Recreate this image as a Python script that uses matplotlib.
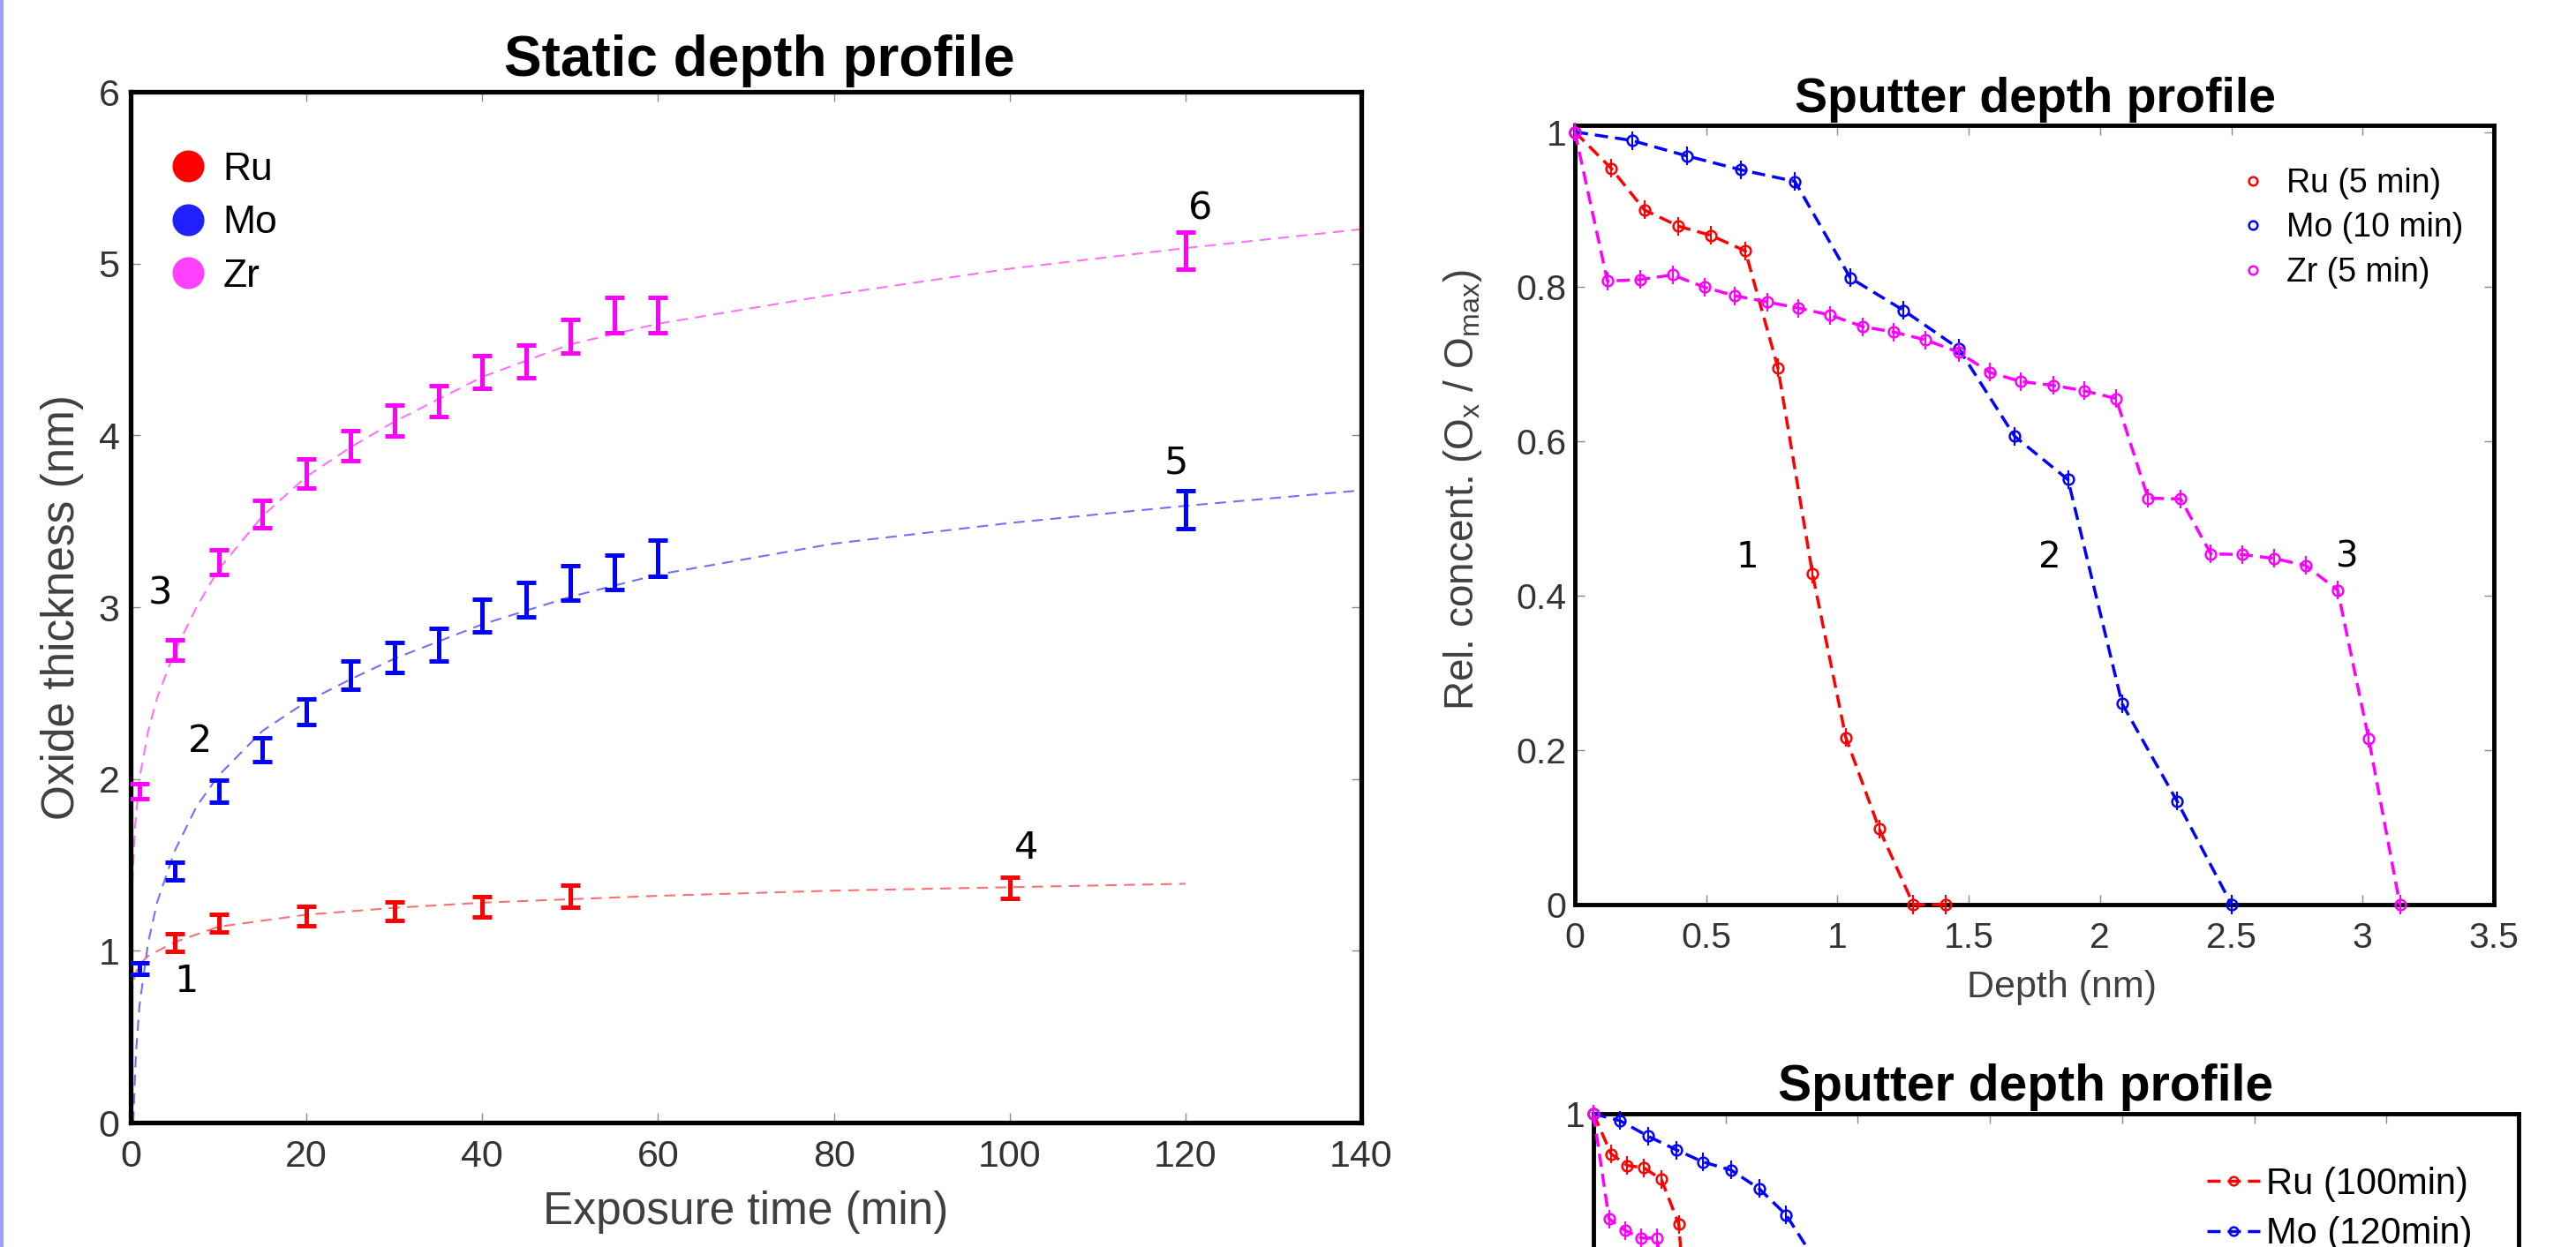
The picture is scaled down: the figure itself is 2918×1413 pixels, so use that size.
import matplotlib
matplotlib.use('Agg')
import matplotlib.pyplot as plt
from matplotlib.lines import Line2D
from matplotlib.patches import Rectangle

plt.rcParams['font.family'] = 'Liberation Sans'
plt.rcParams['mathtext.fontset'] = 'custom'
plt.rcParams['mathtext.rm'] = 'Liberation Sans'
plt.rcParams['mathtext.it'] = 'Liberation Sans:italic'

# ---------- static depth profile (exposure time in min, thickness in nm) ----------
t_mo = [1, 5, 10, 15, 20, 25, 30, 35, 40, 45, 50, 55, 60, 120]
mo_thk = [0.896, 1.464, 1.93, 2.172, 2.393, 2.604, 2.707, 2.782, 2.95, 3.045, 3.143, 3.205, 3.283, 3.568]
mo_err = [0.034, 0.05, 0.065, 0.07, 0.075, 0.084, 0.088, 0.093, 0.095, 0.10, 0.10, 0.10, 0.105, 0.111]

t_zr = [1, 5, 10, 15, 20, 25, 30, 35, 40, 45, 50, 55, 60, 120]
zr_thk = [1.928, 2.752, 3.262, 3.54, 3.78, 3.94, 4.085, 4.20, 4.37, 4.43, 4.575, 4.70, 4.70, 5.076]
zr_err = [0.044, 0.06, 0.071, 0.08, 0.084, 0.087, 0.089, 0.091, 0.095, 0.094, 0.098, 0.101, 0.101, 0.109]

t_ru = [5, 10, 20, 30, 40, 50, 100]
ru_thk = [1.047, 1.162, 1.20, 1.23, 1.255, 1.318, 1.366]
ru_err = [0.05, 0.05, 0.056, 0.056, 0.058, 0.063, 0.06]

# fitted growth curves
fit_t_ru = [0.02, 0.1, 0.5, 1, 2, 5, 10, 20, 30, 40, 50, 60, 80, 100, 120]
fit_ru = [0.62, 0.75, 0.86, 0.92, 0.97, 1.05, 1.14, 1.21, 1.25, 1.28, 1.30, 1.32, 1.35, 1.37, 1.39]
fit_t_mo = [0.3, 0.6, 1, 2, 3, 5, 7.5, 10, 15, 20, 25, 30, 40, 50, 60, 80, 100, 120, 140]
fit_mo = [0.0, 0.4, 0.68, 1.05, 1.28, 1.58, 1.84, 2.02, 2.28, 2.45, 2.58, 2.70, 2.90, 3.06, 3.19, 3.37, 3.49, 3.59, 3.68]
fit_t_zr = [0, 0.05, 0.2, 0.5, 1, 2, 3, 5, 7.5, 10, 15, 20, 25, 30, 40, 50, 60, 80, 100, 120, 140]
fit_zr = [0, 1.0, 1.4, 1.72, 2.0, 2.28, 2.47, 2.74, 3.0, 3.22, 3.53, 3.76, 3.93, 4.08, 4.34, 4.53, 4.65, 4.82, 4.97, 5.09, 5.20]

static_labels = ['1', '2', '3', '4', '5', '6']
static_label_t = [6.3, 7.9, 3.4, 101.9, 118.9, 121.7]
static_label_d = [0.82, 2.22, 3.08, 1.60, 3.84, 5.32]

# ---------- sputter depth profile 1 (depth in nm, relative concentration) ----------
ru5_depth = [0, 0.138, 0.265, 0.395, 0.519, 0.649, 0.773, 0.905, 1.032, 1.159, 1.289, 1.413]
ru5_conc = [1.0, 0.953, 0.899, 0.878, 0.866, 0.846, 0.695, 0.428, 0.216, 0.098, 0.0, 0.0]
mo10_depth = [0, 0.217, 0.426, 0.632, 0.838, 1.049, 1.252, 1.461, 1.675, 1.878, 2.084, 2.293, 2.501]
mo10_conc = [1.0, 0.989, 0.969, 0.951, 0.936, 0.811, 0.769, 0.720, 0.606, 0.550, 0.260, 0.134, 0.0]
zr5_depth = [0, 0.124, 0.248, 0.372, 0.494, 0.609, 0.733, 0.852, 0.973, 1.097, 1.215, 1.334,
             1.461, 1.579, 1.698, 1.822, 1.940, 2.061, 2.183, 2.307, 2.422, 2.543, 2.662,
             2.783, 2.905, 3.023, 3.142]
zr5_conc = [1.0, 0.807, 0.809, 0.815, 0.799, 0.788, 0.780, 0.772, 0.763, 0.748, 0.741, 0.731,
            0.715, 0.689, 0.677, 0.672, 0.665, 0.655, 0.526, 0.525, 0.454, 0.453, 0.448,
            0.439, 0.407, 0.215, 0.0]
sputter_labels = ['1', '2', '3']
sputter_label_depth = [0.658, 1.809, 2.94]
sputter_label_conc = [0.449, 0.449, 0.449]

# ---------- sputter depth profile 2 (only its top part is on the slide) ----------
ru100_depth = [0, 0.067, 0.128, 0.191, 0.257, 0.323, 0.34]
ru100_conc = [1.0, 0.948, 0.933, 0.930, 0.915, 0.857, 0.78]
mo120_depth = [0, 0.101, 0.206, 0.315, 0.415, 0.521, 0.627, 0.729, 0.83]
mo120_conc = [1.0, 0.991, 0.971, 0.953, 0.9375, 0.927, 0.903, 0.869, 0.815]
zr_b_depth = [0, 0.059, 0.119, 0.181, 0.239, 0.27]
zr_b_conc = [1.0, 0.864, 0.849, 0.839, 0.839, 0.78]

RED, BLUE, MAG = '#ff0000', '#0000ff', '#ff00ff'
W, H = 2918, 1413

fig = plt.figure(figsize=(W / 100, H / 100), dpi=100)
fig.add_artist(Rectangle((0, 0), 4 / W, 1, transform=fig.transFigure,
                         color='#a0a0ff', lw=0))


def frame(ax, lw, size, xpad, ypad):
    for sp in ax.spines.values():
        sp.set_linewidth(lw)
        sp.set_capstyle('projecting')
    ax.tick_params(direction='in', length=8, width=1, color='#8a8a8a',
                   top=True, right=True, labelsize=size, labelcolor='#333333')
    ax.tick_params(axis='x', pad=xpad)
    ax.tick_params(axis='y', pad=ypad)


# ---------------- Static depth profile ----------------
ax1 = fig.add_axes([148 / W, (H - 1272) / H, 1394 / W, 1168 / H])
fd = (0, (6, 4))
ax1.plot(fit_t_ru, fit_ru, color='#ff7070', lw=1.5, ls=fd, zorder=1)
ax1.plot(fit_t_mo, fit_mo, color='#7070ff', lw=1.5, ls=fd, zorder=1)
ax1.plot(fit_t_zr, fit_zr, color='#ff70ff', lw=1.5, ls=fd, zorder=1)
eb = dict(fmt='none', elinewidth=3.6, capsize=8, capthick=3.6, zorder=3)
ax1.errorbar(t_ru, ru_thk, yerr=ru_err, ecolor=RED, **eb)
ax1.errorbar(t_mo, mo_thk, yerr=mo_err, ecolor=BLUE, **eb)
ax1.errorbar(t_zr, zr_thk, yerr=zr_err, ecolor=MAG, **eb)
for s, x, y in zip(static_labels, static_label_t, static_label_d):
    ax1.text(x, y, s, fontsize=31, family='DejaVu Sans', ha='center', va='center')

ax1.set_xlim(0, 140)
ax1.set_ylim(0, 6)
ax1.set_xticks(range(0, 141, 20))
ax1.set_yticks(range(0, 7))
frame(ax1, 3.8, 31, 14, 9)
ax1.set_xlabel('Exposure time (min)', fontsize=37, color='#404040')
ax1.xaxis.set_label_coords(0.5, -0.066)
ax1.set_ylabel('Oxide thickness (nm)', fontsize=37, color='#404040')
ax1.yaxis.set_label_coords(-0.038, 0.5)
ax1.text(0.511, 1.0154, 'Static depth profile', transform=ax1.transAxes,
         ha='center', va='baseline', fontsize=46, fontweight='bold')

leg_h = [Line2D([], [], marker='o', ls='none', color=c, ms=25)
         for c in ['#ff0000', '#2020ff', '#ff40ff']]
ax1.legend(leg_h, ['Ru', 'Mo', 'Zr'], loc='upper left', bbox_to_anchor=(0.031, 0.942),
           frameon=False, fontsize=32, handlelength=1.0, handletextpad=0.38,
           labelspacing=0.44, borderpad=0, borderaxespad=0)

# ---------------- Sputter depth profile (top) ----------------
ax2 = fig.add_axes([1784 / W, (H - 1025) / H, 1041 / W, 883 / H])
ld = (0, (4.3, 2.3))
mk = dict(marker='o', mfc='none', ms=8.5, mew=1.8, clip_on=False, zorder=4)
for dx, cy, c in [(ru5_depth, ru5_conc, RED), (mo10_depth, mo10_conc, BLUE),
                  (zr5_depth, zr5_conc, MAG)]:
    ax2.plot(dx, cy, color=c, lw=2.5, ls=ld, zorder=3, clip_on=False)
    ax2.plot(dx, cy, color=c, ls='none', **mk)
    ax2.errorbar(dx, cy, yerr=0.012, fmt='none', ecolor=c, elinewidth=1.5,
                 capsize=0, zorder=4, clip_on=False)
for s, x, y in zip(sputter_labels, sputter_label_depth, sputter_label_conc):
    ax2.text(x, y, s, fontsize=29, family='DejaVu Sans', ha='center', va='center')

ax2.set_xlim(0, 3.5)
ax2.set_ylim(0, 1.0086)
ax2.set_xticks([0, 0.5, 1, 1.5, 2, 2.5, 3, 3.5])
ax2.set_xticklabels(['0', '0.5', '1', '1.5', '2', '2.5', '3', '3.5'])
ax2.set_yticks([0, 0.2, 0.4, 0.6, 0.8, 1])
ax2.set_yticklabels(['0', '0.2', '0.4', '0.6', '0.8', '1'])
frame(ax2, 3.5, 29.5, 14, 7)
ax2.set_xlabel('Depth (nm)', fontsize=31, color='#404040')
ax2.xaxis.set_label_coords(0.53, -0.084)
ax2.set_ylabel(r'Rel. concent. (O$_\mathregular{x}$ / O$_\mathregular{max}$)',
               fontsize=33, color='#404040')
ax2.yaxis.set_label_coords(-0.099, 0.532)
ax2.text(0.5014, 1.017, 'Sputter depth profile', transform=ax2.transAxes,
         ha='center', va='baseline', fontsize=40, fontweight='bold')
leg2_h = [Line2D([], [], marker='o', ls='none', color=c, mfc='none', ms=7, mew=1.8)
          for c in [RED, BLUE, MAG]]
ax2.legend(leg2_h, ['Ru (5 min)', 'Mo (10 min)', 'Zr (5 min)'], loc='upper left',
           bbox_to_anchor=(0.7195, 0.946), frameon=False, fontsize=27,
           handlelength=1.0, handletextpad=0.52, labelspacing=0.39,
           borderpad=0, borderaxespad=0)

# ---------------- Sputter depth profile (bottom, cut by the slide edge) ----------------
ax3 = fig.add_axes([1805 / W, (H - 2137) / H, 1048 / W, 875 / H])
series3 = [(ru100_depth, ru100_conc, RED), (mo120_depth, mo120_conc, BLUE),
           (zr_b_depth, zr_b_conc, MAG)]
for dx, cy, c in series3:
    ax3.plot(dx, cy, color=c, lw=2.5, ls=ld, zorder=3, clip_on=False)
    ax3.plot(dx, cy, color=c, ls='none', **mk)
    ax3.errorbar(dx, cy, yerr=0.012, fmt='none', ecolor=c, elinewidth=1.5,
                 capsize=0, zorder=4, clip_on=False)
ax3.set_xlim(0, 3.5)
ax3.set_ylim(0, 1)
ax3.set_xticks([0, 0.5, 1, 1.5, 2, 2.5, 3, 3.5])
# only the top of this panel is on the slide, so only the "1" label shows
ax3.set_yticks([0, 0.2, 0.4, 0.6, 0.8, 1])
ax3.set_yticklabels(['', '', '', '', '', '1'])
frame(ax3, 3.5, 29.5, 14, 7)
ax3.tick_params(labelbottom=False)
ax3.text(0.4676, 1.017, 'Sputter depth profile', transform=ax3.transAxes,
         ha='center', va='baseline', fontsize=41, fontweight='bold')
leg3_h = [Line2D([], [], marker='o', ls=ld, color=c, mfc='none', ms=7, mew=1.8, lw=2.5)
          for c in [RED, BLUE]]
ax3.legend(leg3_h, ['Ru (100min)', 'Mo (120min)'], loc='upper left',
           bbox_to_anchor=(0.663, 0.932), frameon=False, fontsize=30,
           handlelength=1.45, handletextpad=0.17, labelspacing=0.40,
           borderpad=0, borderaxespad=0)

fig.savefig('out.png', dpi=100)
